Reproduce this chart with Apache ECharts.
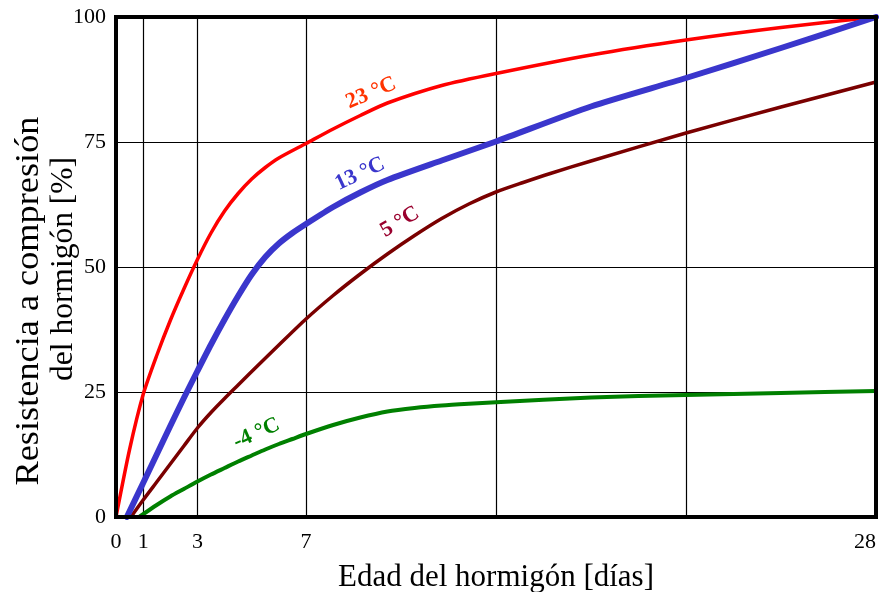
<!DOCTYPE html>
<html>
<head>
<meta charset="utf-8">
<script src="https://cdn.jsdelivr.net/npm/echarts@6/dist/echarts.min.js"></script>
<style>
html,body{margin:0;padding:0;background:#fff;}
#chart{width:882px;height:592px;}
</style>
</head>
<body>
<div id="chart"></div>
<script>
// ---- data (days, % of 28-day strength) ----
const xGridDays = [1, 3, 7, 14, 21];
const xLabelDays = [0, 1, 3, 7, 28];
const yTickValues = [0, 25, 50, 75, 100];
const curveNames = ['23 °C', '13 °C', '5 °C', '-4 °C'];

const curve23 = [[0,0],[0.5,13.5],[1,24.5],[1.5,32.3],[2,39.3],[2.5,45.6],[3,51.5],[3.5,56.8],[4,61.2],[4.5,64.7],[5,67.6],[5.5,69.9],[6,71.8],[7,74.7],[8,77.6],[9,80.3],[10,82.8],[12,86.3],[14,88.7],[17.5,92.4],[21,95.4],[24.5,97.9],[28,100]];
const curve13 = [[0.4,0],[1,6.8],[1.5,12.5],[2,18.2],[2.5,23.8],[3,29.2],[3.5,34.5],[4,39.5],[4.5,44.2],[5,48.5],[5.5,52],[6,54.7],[6.5,56.8],[7,58.6],[8,62],[9,64.9],[10,67.4],[12,71.3],[14,75.1],[17.5,82.1],[21,87.8],[24.5,93.8],[28,100]];
const curve5  = [[0.55,0],[1,3.4],[1.5,7],[2,10.6],[2.5,14.2],[3,17.8],[3.5,20.9],[4,23.7],[4.5,26.4],[5,29.1],[6,34.4],[7,39.6],[8,44.3],[9,48.6],[10,52.6],[11,56.3],[12,59.7],[13,62.6],[14,65],[15,66.9],[16,68.7],[17.5,71.2],[21,76.8],[24.5,82],[28,87]];
const curveM4 = [[0.85,0],[1.5,2.4],[2,4.1],[2.5,5.6],[3,7.1],[3.5,8.5],[4,9.8],[4.5,11.1],[5,12.3],[5.5,13.5],[6,14.6],[6.5,15.6],[7,16.6],[8,18.4],[9,19.9],[10,21.1],[11,21.8],[12,22.3],[13,22.65],[14,22.95],[17.5,23.9],[21,24.4],[24.5,24.8],[28,25.2]];

const SERIF = "'Liberation Serif','Times New Roman',Times,serif";

function lineSeries(name, data, color, width, z, labelAt, labelColor, rot) {
  return {
    name: name, type: 'line', data: data, smooth: 0.25, showSymbol: false, z: z,
    lineStyle: { color: color, width: width, cap: 'round', join: 'round' },
    markPoint: {
      symbol: 'circle', symbolSize: 0, silent: true,
      data: [{ coord: labelAt, value: name }],
      label: {
        show: true, position: 'inside', formatter: name, rotate: rot,
        color: labelColor, fontFamily: SERIF, fontSize: 22, fontWeight: 'bold'
      }
    }
  };
}

const chart = echarts.init(document.getElementById('chart'), null, { renderer: 'canvas' });
chart.setOption({
  backgroundColor: '#ffffff',
  animation: false,
  grid: { left: 116, right: 6, top: 17, bottom: 75, containLabel: false, outerBoundsMode: 'none',
          show: true, borderColor: '#000', borderWidth: 4, backgroundColor: 'transparent', z: 10 },
  xAxis: {
    type: 'value', min: 0, max: 28,
    name: 'Edad del hormigón [días]', nameLocation: 'middle', nameGap: 45,
    nameTextStyle: { fontFamily: SERIF, fontSize: 31, color: '#000' },
    axisLine: { show: false },
    axisTick: { show: false, customValues: [0].concat(xGridDays, [28]) },
    axisLabel: { customValues: xLabelDays, alignMaxLabel: 'right', fontFamily: SERIF, fontSize: 22, color: '#000', margin: 14 },
    splitLine: { show: true, lineStyle: { color: '#000', width: 1.2 } }
  },
  yAxis: {
    type: 'value', min: 0, max: 100, interval: 25,
    axisLine: { show: false },
    axisTick: { show: false },
    axisLabel: { fontFamily: SERIF, fontSize: 22, color: '#000', margin: 10 },
    splitLine: { show: true, lineStyle: { color: '#000', width: 1.2 } }
  },
  graphic: [
    { type: 'text', x: 29, y: 301, rotation: Math.PI / 2, scaleX: 1.1,
      style: { text: 'Resistencia a compresión', font: '33px ' + SERIF, fill: '#000', textAlign: 'center', textVerticalAlign: 'middle' } },
    { type: 'text', x: 64, y: 269, rotation: Math.PI / 2,
      style: { text: 'del hormigón [%]', font: '31.5px ' + SERIF, fill: '#000', textAlign: 'center', textVerticalAlign: 'middle' } }
  ],
  series: [
    lineSeries(curveNames[0], curve23, '#ff0000', 3.5, 3, [9.4, 84.8], '#ff3300', 23),
    lineSeries(curveNames[2], curve5, '#7a0000', 3.5, 3, [10.46, 59], '#99002e', 30),
    lineSeries(curveNames[3], curveM4, '#008000', 4, 3, [5.18, 16.7], '#008000', 24),
    lineSeries(curveNames[1], curve13, '#3a36cc', 6, 4, [8.99, 68.6], '#3a36cc', 25)
  ]
});
</script>
</body>
</html>
